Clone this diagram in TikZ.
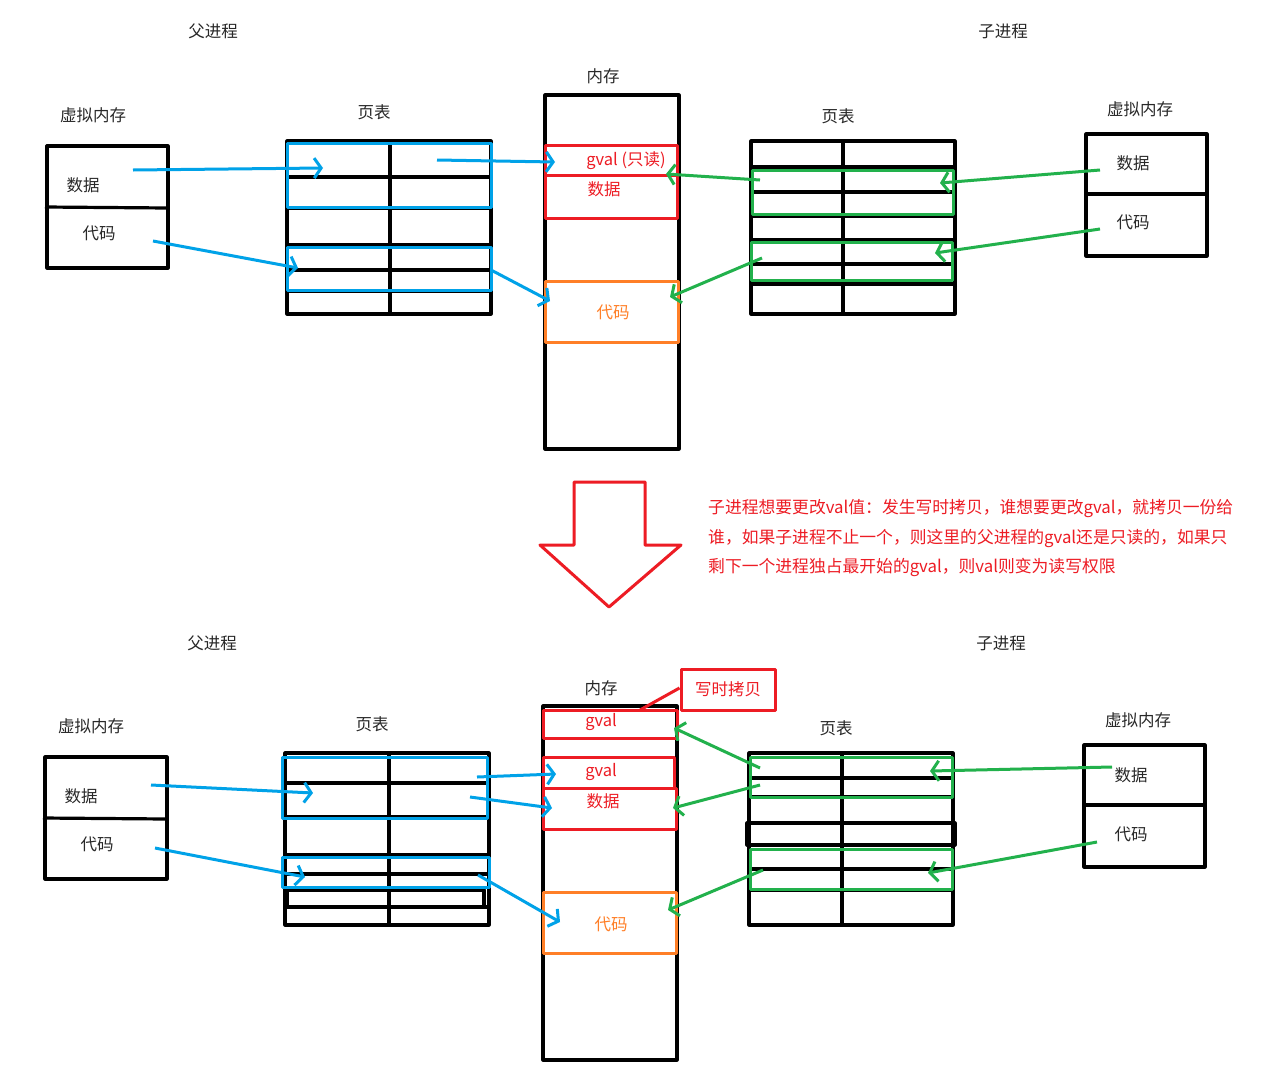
\documentclass[tikz,border=0pt]{standalone}
\usepackage{fontspec}
\newfontfamily\cjk{Noto Sans CJK SC}
\usetikzlibrary{arrows.meta}
\definecolor{pblue}{RGB}{0,162,232}
\definecolor{pgreen}{RGB}{34,177,76}
\definecolor{pred}{RGB}{237,28,36}
\definecolor{porange}{RGB}{255,127,39}
\definecolor{ptext}{RGB}{40,40,40}
\tikzset{
  blk/.style={draw=black,line width=3.2pt},
  blu/.style={draw=pblue,line width=3pt},
  grn/.style={draw=pgreen,line width=3pt},
  redb/.style={draw=pred,line width=3pt},
  orb/.style={draw=porange,line width=3pt},
  lbl/.style={font=\cjk\fontsize{16.5}{19}\selectfont,text=ptext,inner sep=0pt},
  rlbl/.style={lbl,text=pred},
  olbl/.style={lbl,text=porange},
  nlbl/.style={rlbl,font=\cjk\fontsize{16.8}{19}\selectfont},
  barb/.style={-{Straight Barb[length=7pt,width=20pt]}},
  barrow/.style={blu,barb},
  garrow/.style={grn,barb},
}
\begin{document}
\begin{tikzpicture}[x=1pt,y=-1pt,line join=round]
\useasboundingbox (0,0) rectangle (1263,1082);
\fill[white] (0,0) rectangle (1263,1082);

% ================= TOP HALF =================
\node[lbl] (fT) at (213,31) {父进程};
\node[lbl] (zT) at (1003,31) {子进程};

% left virtual memory
\node[lbl] (vmLT) at (93,115) {虚拟内存};
\draw[blk] (47,146) rectangle (168,268);
\draw[blk] (45,207) -- (168,208);
\node[lbl] (dLT) at (83,185) {数据};
\node[lbl] (cLT) at (99,233) {代码};

% left page table
\node[lbl] (ptLT) at (374,112) {页表};
\draw[blk] (287,141) rectangle (491,314);
\draw[blk] (390,141) -- (390,314);
\foreach \y in {177,208,245,270,291} \draw[blk] (287,\y) -- (491,\y);
\draw[blu] (287,143) rectangle (491,207);
\draw[blu] (287,247) rectangle (491,290);

% memory
\node[lbl] (memT) at (603,76) {内存};
\draw[blk] (545,95) rectangle (679,449);
\draw[redb] (545,145) rectangle (677,218);
\draw[redb] (545,175) -- (677,175);
\node[rlbl] (gvT) at (626,161) {gval (只读)};
\node[rlbl] (mdT) at (604,189) {数据};
\draw[orb] (545,281) rectangle (678,342);
\node[olbl] (mcT) at (613,312) {代码};

% right page table
\node[lbl] (ptRT) at (838,116) {页表};
\draw[blk] (751,141) rectangle (955,314);
\draw[blk] (843,141) -- (843,314);
\foreach \y in {167,192,216,240,264,284} \draw[blk] (751,\y) -- (955,\y);
\draw[grn] (752,170) rectangle (953,214);
\draw[grn] (751,242) rectangle (952,280);

% right virtual memory
\node[lbl] (vmRT) at (1140,109) {虚拟内存};
\draw[blk] (1086,134) rectangle (1207,256);
\draw[blk] (1086,194) -- (1207,194);
\node[lbl] (dRT) at (1133,163) {数据};
\node[lbl] (cRT) at (1133,222) {代码};

% arrows top
\coordinate (b1s) at (133,170); \coordinate (b1e) at (323,168);
\coordinate (b2s) at (437,160); \coordinate (b2e) at (555,162);
\coordinate (b3s) at (153,241); \coordinate (b3e) at (298,268);
\coordinate (b4s) at (491,270); \coordinate (b4e) at (550,301);
\draw[barrow] (b1s) -- (b1e);
\draw[barrow] (b2s) -- (b2e);
\draw[barrow] (b3s) -- (b3e);
\draw[barrow] (b4s) -- (b4e);
\coordinate (g1s) at (1100,170); \coordinate (g1e) at (940,183);
\coordinate (g2s) at (760,180); \coordinate (g2e) at (666,174);
\coordinate (g3s) at (1100,229); \coordinate (g3e) at (935,253);
\coordinate (g4s) at (762,258); \coordinate (g4e) at (670,297);
\draw[garrow] (g1s) -- (g1e);
\draw[garrow] (g2s) -- (g2e);
\draw[garrow] (g3s) -- (g3e);
\draw[garrow] (g4s) -- (g4e);

% ================= MIDDLE =================
\draw[redb] (574,482) -- (645,482) -- (645,545) -- (681,545) -- (609,607)
  -- (540,545) -- (574,545) -- cycle;
\node[nlbl,anchor=west] (n1) at (708,509) {子进程想要更改val值：发生写时拷贝，谁想要更改gval，就拷贝一份给};
\node[nlbl,anchor=west] (n2) at (708,538) {谁，如果子进程不止一个，则这里的父进程的gval还是只读的，如果只};
\node[nlbl,anchor=west] (n3) at (708,567) {剩下一个进程独占最开始的gval，则val则变为读写权限};

% ================= BOTTOM HALF =================
\node[lbl] (fB) at (212,643) {父进程};
\node[lbl] (zB) at (1001,643) {子进程};

% left virtual memory
\node[lbl] (vmLB) at (91,726) {虚拟内存};
\draw[blk] (45,757) rectangle (167,879);
\draw[blk] (43,818) -- (167,819);
\node[lbl] (dLB) at (81,796) {数据};
\node[lbl] (cLB) at (97,844) {代码};

% left page table
\node[lbl] (ptLB) at (372,724) {页表};
\draw[blk] (285,753) rectangle (489,925);
\draw[blk] (389,753) -- (389,925);
\foreach \y in {783,817,855,874,907} \draw[blk] (285,\y) -- (489,\y);
\draw[blk] (287,890) rectangle (484,907);
\draw[blu] (282,757) rectangle (487,818);
\draw[blu] (282,857) rectangle (489,887);

% memory
\node[lbl] (memB) at (601,688) {内存};
\draw[blk] (543,706) rectangle (677,1060);
\draw[redb] (543,710) rectangle (677,738);
\node[rlbl] (gvB1) at (601,722) {gval};
\draw[redb] (543,757) rectangle (674,788);
\node[rlbl] (gvB2) at (601,772) {gval};
\draw[redb] (543,788) rectangle (676,829);
\node[rlbl] (mdB) at (603,801) {数据};
\draw[orb] (543,892) rectangle (676,953);
\node[olbl] (mcB) at (611,924) {代码};
\node[rlbl,draw=pred,line width=3pt,minimum width=94pt,minimum height=41pt] (cow) at (728,689.5) {写时拷贝};
\coordinate (cowp) at (640,710);
\draw[redb] (cowp) -- (cow.west |- 0,688);

% right page table
\node[lbl] (ptRB) at (836,728) {页表};
\draw[blk] (749,753) rectangle (953,925);
\draw[blk] (842,753) -- (842,925);
\foreach \y in {778,797,845,869,890} \draw[blk] (749,\y) -- (953,\y);
\draw[blk] (747,823) rectangle (955,845);
\draw[grn] (750,757) rectangle (952,797);
\draw[grn] (750,849) rectangle (952,889);

% right virtual memory
\node[lbl] (vmRB) at (1138,720) {虚拟内存};
\draw[blk] (1084,745) rectangle (1205,867);
\draw[blk] (1084,805) -- (1205,805);
\node[lbl] (dRB) at (1131,775) {数据};
\node[lbl] (cRB) at (1131,834) {代码};

% arrows bottom
\coordinate (b5s) at (151,785); \coordinate (b5e) at (313,793);
\coordinate (b6s) at (155,848); \coordinate (b6e) at (305,877);
\coordinate (b7s) at (477,777); \coordinate (b7e) at (556,774);
\coordinate (b8s) at (470,797); \coordinate (b8e) at (552,808);
\coordinate (b9s) at (478,875); \coordinate (b9e) at (560,922);
\draw[barrow] (b5s) -- (b5e);
\draw[barrow] (b6s) -- (b6e);
\draw[barrow] (b7s) -- (b7e);
\draw[barrow] (b8s) -- (b8e);
\draw[barrow] (b9s) -- (b9e);
\coordinate (g5s) at (1112,767); \coordinate (g5e) at (930,771);
\coordinate (g6s) at (760,768); \coordinate (g6e) at (674,728);
\coordinate (g7s) at (760,785); \coordinate (g7e) at (673,808);
\coordinate (g8s) at (1097,842); \coordinate (g8e) at (928,873);
\coordinate (g9s) at (763,870); \coordinate (g9e) at (668,910);
\draw[garrow] (g5s) -- (g5e);
\draw[garrow] (g6s) -- (g6e);
\draw[garrow] (g7s) -- (g7e);
\draw[garrow] (g8s) -- (g8e);
\draw[garrow] (g9s) -- (g9e);
\end{tikzpicture}
\end{document}
